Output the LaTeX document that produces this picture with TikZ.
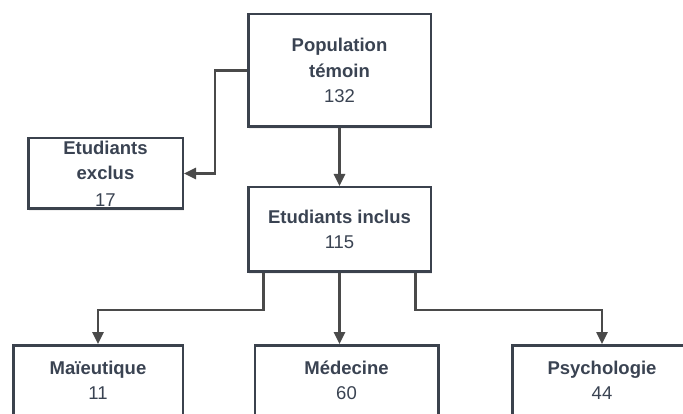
\documentclass[tikz,border=0pt]{standalone}
\usepackage{fontspec}
\setmainfont{Liberation Sans}
\usetikzlibrary{arrows.meta,calc,shadows}
\definecolor{boxline}{HTML}{3B424D}
\definecolor{txt}{HTML}{3A4352}
\definecolor{arrcol}{HTML}{4A4A4A}
\tikzset{
  box/.style={draw=boxline, line width=2.5pt, fill=white, align=center,
    text=txt, inner sep=0pt, font=\fontsize{18.5}{25.5}\selectfont,
    drop shadow={shadow xshift=1pt, shadow yshift=-2pt, opacity=0.12}},
  arr/.style={draw=arrcol, line width=2.5pt,
    -{Triangle[length=12pt,width=11pt]}}
}
\begin{document}
\begin{tikzpicture}[x=1pt,y=-1pt]
\useasboundingbox (0,0) rectangle (683,414);
\node[box, minimum width=182.5pt, minimum height=112.5pt] (top) at (339.5,70.5)
  {\textbf{Population}\\\textbf{témoin}\\132};
\node[box, minimum width=154.5pt, minimum height=70.5pt] (excl) at (105.5,173.5)
  {\textbf{Etudiants}\\\textbf{exclus}\\[1pt]17};
\node[box, minimum width=182.5pt, minimum height=84.5pt] (incl) at (339.5,229.5)
  {\textbf{Etudiants inclus}\\115};
\node[box, minimum width=169.5pt, minimum height=70.5pt] (mai) at (98,380.5)
  {\textbf{Maïeutique}\\11};
\node[box, minimum width=183.5pt, minimum height=70.5pt] (med) at (346.5,380.5)
  {\textbf{Médecine}\\60};
\node[box, minimum width=179.5pt, minimum height=70.5pt] (psy) at (602,380.5)
  {\textbf{Psychologie}\\44};
\draw[arr] (top.west) -- ++(-32,0) |- (excl.east);
\draw[arr] (top.south) -- (incl.north);
\draw[arr] ($(incl.south)+(-76,0)$) -- ++(0,37) -| (mai.north);
\draw[arr] (incl.south) -- (incl.south |- med.north);
\draw[arr] ($(incl.south)+(76,0)$) -- ++(0,37) -| (psy.north);
\end{tikzpicture}
\end{document}
